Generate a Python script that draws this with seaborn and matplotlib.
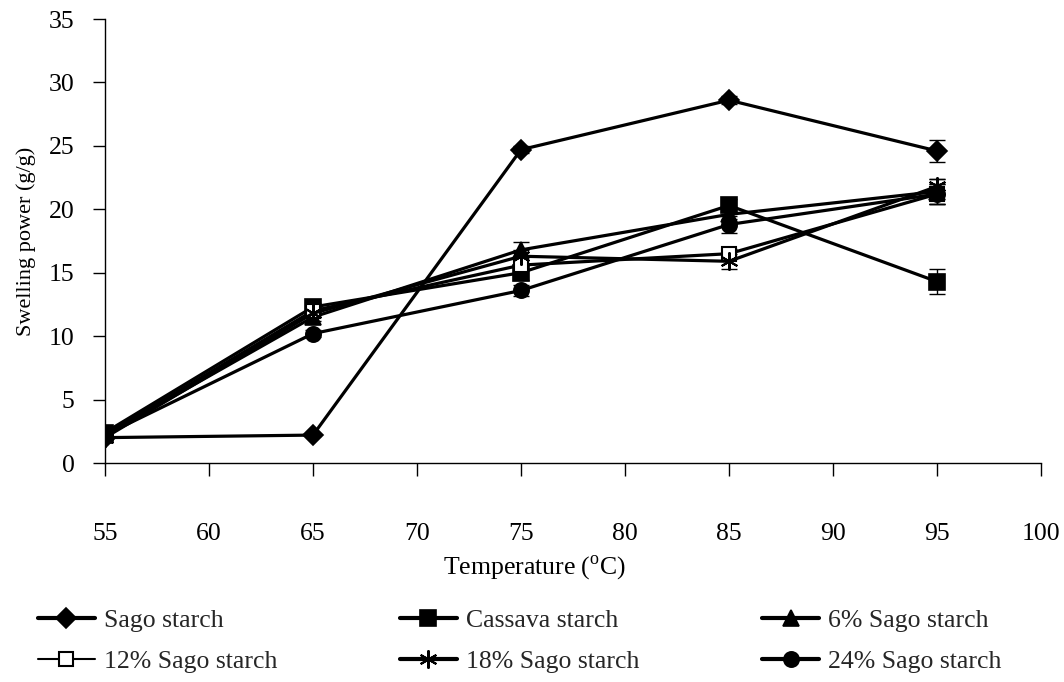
import matplotlib
matplotlib.use("Agg")
import matplotlib.pyplot as plt
from matplotlib.lines import Line2D
import seaborn as sns
import pandas as pd
import numpy as np

temperature = [55, 65, 75, 85, 95]
series_names = ["Sago starch", "Cassava starch", "6% Sago starch",
                "12% Sago starch", "18% Sago starch", "24% Sago starch"]
sago = [2.0, 2.2, 24.7, 28.6, 24.6]
cassava = [2.4, 12.3, 15.0, 20.3, 14.3]
sago6 = [2.2, 11.5, 16.8, 19.6, 21.4]
sago12 = [2.2, 12.0, 15.6, 16.5, 21.2]
sago18 = [2.0, 11.8, 16.3, 15.9, 21.8]
sago24 = [2.2, 10.2, 13.6, 18.8, 21.2]
err_sago = [0.1, 0.1, 0.3, 0.3, 0.9]
err_cassava = [0.2, 0.3, 0.6, 0.5, 1.0]
err_6 = [0.1, 0.3, 0.6, 0.4, 1.0]
err_12 = [0.1, 0.3, 0.4, 0.4, 0.8]
err_18 = [0.1, 0.3, 0.5, 0.6, 0.6]
err_24 = [0.1, 0.3, 0.4, 0.7, 0.8]

values = [sago, cassava, sago6, sago12, sago18, sago24]
errors = [err_sago, err_cassava, err_6, err_12, err_18, err_24]

sns.set_theme(style="white")
plt.rcParams['font.family'] = ['Liberation Serif', 'DejaVu Serif']
plt.rcParams['mathtext.fontset'] = 'custom'
plt.rcParams['mathtext.rm'] = 'Liberation Serif'

FS = 18.5
fig = plt.figure(figsize=(10.64, 6.82), dpi=100)
ax = fig.add_axes([105/1064, 1 - 463/682, (1041 - 105)/1064, (463 - 19)/682])

styles = {
    "Sago starch": dict(marker="D", markersize=10, markerfacecolor="black", markeredgewidth=1.2),
    "Cassava starch": dict(marker="s", markersize=11, markerfacecolor="black", markeredgewidth=1.2),
    "6% Sago starch": dict(marker="^", markersize=11, markerfacecolor="black", markeredgewidth=1.2),
    "12% Sago starch": dict(marker="s", markersize=10, markerfacecolor="white", markeredgewidth=1.5),
    "18% Sago starch": dict(marker=(6, 2, 0), markersize=13, markeredgewidth=1.5),
    "24% Sago starch": dict(marker="o", markersize=11, markerfacecolor="black", markeredgewidth=1.2),
}

for name, vals, errs in zip(series_names, values, errors):
    ax.errorbar(temperature, vals, yerr=errs, fmt="none", ecolor="black",
                elinewidth=1.0, capsize=6, capthick=1.0, zorder=2)

for name, vals in zip(series_names, values):
    d = pd.DataFrame({"Temperature": temperature, "Swelling": vals})
    sns.lineplot(data=d, x="Temperature", y="Swelling", color="black",
                 linewidth=2.3, ax=ax, zorder=3, markeredgecolor="black",
                 label=name, **styles[name])

ax.get_legend().remove()
hmap = {}
for name in series_names:
    st = dict(styles[name])
    lw = 1.5 if name == "12% Sago starch" else 3
    hmap[name] = Line2D([], [], color="black", linewidth=lw,
                        markeredgecolor="black", **st)

order = [0, 3, 1, 4, 2, 5]
leg = fig.legend([hmap[series_names[i]] for i in order],
                 [series_names[i] for i in order],
                 ncol=3, loc="upper left", bbox_to_anchor=(38/1064, 1 - 609/682),
                 frameon=False, fontsize=FS, handlelength=2.2, handletextpad=0.35,
                 columnspacing=4.8, labelspacing=0.72, borderaxespad=0,
                 borderpad=0)

ax.set_xlim(55, 100)
ax.set_ylim(0, 35)
ax.set_xticks(np.arange(55, 101, 5))
ax.set_yticks(np.arange(0, 36, 5))
ax.tick_params(axis="x", direction="out", length=9, width=1, pad=34,
               labelsize=FS, colors="black", bottom=True)
ax.tick_params(axis="y", direction="out", length=9, width=1, pad=13,
               labelsize=FS, colors="black", left=True)
for s in ["top", "right"]:
    ax.spines[s].set_visible(False)
for s in ["left", "bottom"]:
    ax.spines[s].set_color("black")
    ax.spines[s].set_linewidth(1)

ax.set_xlabel(r"Temperature ($^{\mathrm{o}}$C)", fontsize=FS, color="black")
ax.xaxis.set_label_coords((535 - 105) / 936, (463 - 553) / 444)
ax.set_ylabel("Swelling power (g/g)", fontsize=16, color="black")
ax.yaxis.set_label_coords((36 - 105) / 936, 0.5)
ax.grid(False)

fig.savefig("out.png", dpi=100)
